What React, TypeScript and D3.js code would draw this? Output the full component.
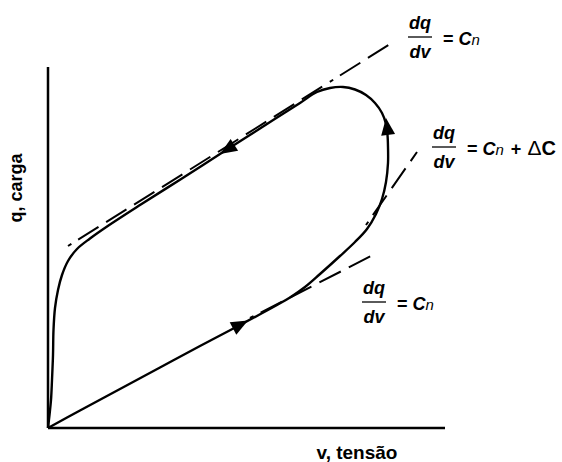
import React from "react";
import * as d3 from "d3";

// Charge–voltage (q–v) cycle with tangent lines marking the slopes.
const W = 562;
const H = 462;

// Axis extents (data units)
const V_MAX = 397;
const Q_MAX = 361;

// Closed cycle, traversed counter-clockwise from the origin
const cycleV = [0, 32, 72, 112, 152, 192, 229, 242, 257, 272, 292, 307, 319, 328, 334, 338, 340, 340, 339.5, 338, 334, 327, 318, 307, 295, 282, 269, 252, 212, 172, 132, 92, 62, 42, 29, 20, 14, 10, 7, 5.5, 5, 4, 3, 1.5, 0];
const cycleQ = [0, 17.5, 39, 60.5, 82, 103, 123, 130.5, 141, 154, 172, 186, 199, 214, 229, 246, 265, 281, 293, 304, 315, 325, 333, 338.5, 341, 340, 336, 325, 299.5, 274, 248.3, 223, 203.5, 189.5, 179, 167, 153, 138, 120, 98, 73, 48, 28, 13, 0];

// Tangent lines: [v0, q0, v1, q1]
const tangentUpper = [20, 182, 347, 387];
const tangentLower = [202, 110, 325, 173];
const tangentDelta = [318, 203, 369, 276];

// Direction arrows: tip and tail points along the cycle
const arrowTipV = [200, 338, 172];
const arrowTipQ = [107.5, 310, 274];
const arrowTailV = [185, 340, 187];
const arrowTailQ = [99.5, 294, 283.5];

const xLabel = "v, tensão";
const yLabel = "q, carga";

const x = d3.scaleLinear().domain([0, V_MAX]).range([48, 48 + V_MAX]);
const y = d3.scaleLinear().domain([0, Q_MAX]).range([428, 428 - Q_MAX]);

const FONT = "'Liberation Sans', Arial, sans-serif";

function Fraction({ cx, ly, rest }: { cx: number; ly: number; rest: React.ReactNode }) {
  return (
    <g fontFamily={FONT} fontWeight="bold" fontSize={18} fill="#000">
      <text x={cx} y={ly - 8} textAnchor="middle" fontStyle="italic">dq</text>
      <line x1={cx - 12} x2={cx + 12} y1={ly} y2={ly} stroke="#000" strokeWidth={1.3} />
      <text x={cx} y={ly + 21} textAnchor="middle" fontStyle="italic">dv</text>
      <text x={cx + 23} y={ly + 8}>{rest}</text>
    </g>
  );
}

export default function App() {
  const pts: [number, number][] = cycleV.map((v, i) => [v, cycleQ[i]]);
  const line = d3
    .line<[number, number]>()
    .x((d) => x(d[0]))
    .y((d) => y(d[1]))
    .curve(d3.curveCatmullRom.alpha(0.5));

  const tangents = [tangentUpper, tangentLower, tangentDelta];

  const arrows = arrowTipV.map((tv, i) => {
    const tx = x(tv);
    const ty = y(arrowTipQ[i]);
    const bx = x(arrowTailV[i]);
    const by = y(arrowTailQ[i]);
    const ang = (Math.atan2(ty - by, tx - bx) * 180) / Math.PI;
    return { tx, ty, ang };
  });

  return (
    <svg
      width={W}
      height={H}
      style={{ position: "absolute", left: 0, top: 0, background: "#fff" }}
    >
      <rect width={W} height={H} fill="#fff" />
      {/* axes */}
      <line x1={x(0)} x2={x(V_MAX)} y1={y(0)} y2={y(0)} stroke="#000" strokeWidth={2.5} />
      <line x1={x(0)} x2={x(0)} y1={y(0)} y2={y(Q_MAX)} stroke="#000" strokeWidth={2.5} />

      {/* tangent lines */}
      {tangents.map((t, i) => (
        <line
          key={i}
          x1={x(t[0])}
          y1={y(t[1])}
          x2={x(t[2])}
          y2={y(t[3])}
          stroke="#000"
          strokeWidth={2}
          strokeDasharray="4 8 24 9 24 9 24 9 24 9 24 9 24 9 24 9 24 9 24 9"
        />
      ))}

      {/* cycle */}
      <path d={line(pts) || ""} fill="none" stroke="#000" strokeWidth={2.4} strokeLinejoin="round" />

      {/* arrows */}
      {arrows.map((a, i) => (
        <path
          key={i}
          d="M0,0 L-17,-7 L-17,7 Z"
          fill="#000"
          transform={`translate(${a.tx},${a.ty}) rotate(${a.ang})`}
        />
      ))}

      {/* axis titles */}
      <text x={357} y={459} textAnchor="middle" fontFamily={FONT} fontWeight="bold" fontSize={19}>
        {xLabel}
      </text>
      <text
        transform="translate(22,188) rotate(-90)"
        textAnchor="middle"
        fontFamily={FONT}
        fontWeight="bold"
        fontSize={18}
      >
        {yLabel}
      </text>

      {/* slope annotations */}
      <Fraction
        cx={420}
        ly={37}
        rest={
          <>
            {"= "}
            <tspan fontStyle="italic">C</tspan>
            <tspan fontStyle="italic" fontWeight="normal" fontSize={15}>n</tspan>
          </>
        }
      />
      <Fraction
        cx={444}
        ly={147}
        rest={
          <>
            {"= "}
            <tspan fontStyle="italic">C</tspan>
            <tspan fontStyle="italic" fontWeight="normal" fontSize={15}>n</tspan>
            <tspan dx={7}>+</tspan>
            <tspan dx={6} fontWeight="normal" fontSize={21}>Δ</tspan>
            <tspan fontSize={20}>C</tspan>
          </>
        }
      />
      <Fraction
        cx={374}
        ly={302}
        rest={
          <>
            {"= "}
            <tspan fontStyle="italic">C</tspan>
            <tspan fontStyle="italic" fontWeight="normal" fontSize={15}>n</tspan>
          </>
        }
      />
    </svg>
  );
}
